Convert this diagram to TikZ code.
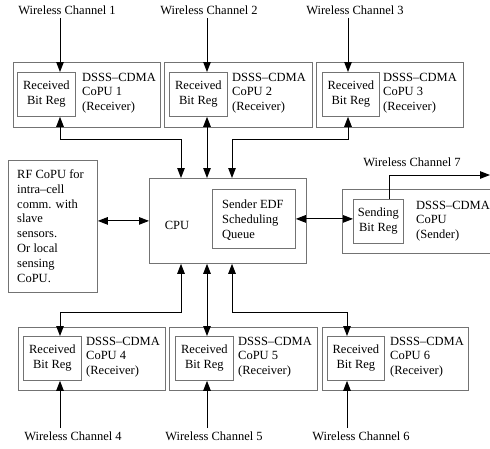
\documentclass[tikz,border=0pt]{standalone}
\usepackage{fontspec}
\setmainfont{Liberation Serif}
\usetikzlibrary{arrows.meta}
\tikzset{
	box/.style={draw=black!55, line width=0.8pt, anchor=north west, inner sep=0pt},
	copu/.style={box, minimum height=65pt},
	reg/.style={box, minimum height=44pt, align=center},
	txt/.style={anchor=west, align=left, inner sep=0pt},
	sig/.style={line width=1pt, -{Triangle[length=10pt,width=7.5pt]}},
	dsig/.style={line width=1pt, {Triangle[length=10pt,width=7.5pt]}-{Triangle[length=10pt,width=7.5pt]}},
}

\begin{document}
\begin{tikzpicture}[x=1pt, y=-1pt, font=\fontsize{12.5}{14.8}\selectfont]
	\useasboundingbox (0,0) rectangle (490,448);
	
	%%%%% arrow columns
	\coordinate (a1) at (60,0);
	\coordinate (a2) at (207,0);
	\coordinate (a3) at (348,0);
	\coordinate (a4) at (60,0);
	\coordinate (a5) at (207,0);
	\coordinate (a6) at (347,0);
	\coordinate (a7) at (389,0);
	\coordinate (out7) at (490,175);
	
	%%%%% CPU
	\node[box, minimum width=157pt, minimum height=85pt] (cpu) at (149,178) {};
	\node (cput) at (177,225) {CPU};
	\node[box, minimum width=83pt, minimum height=59pt] (edf) at (212,189) {};
	\node[txt] (edft) at (222,220) {Sender EDF\\Scheduling\\Queue};
	
	%%%%% RF CoPU
	\node[box, minimum width=89pt, minimum height=132pt] (rf) at (8,160) {};
	\node[txt] (rft) at (17,226) {RF CoPU for\\intra--cell\\comm. with\\slave\\sensors.\\Or local\\sensing\\CoPU.};
	
	%%%%% receivers, top row
	\node[copu, minimum width=147pt] (cp1) at (13,62) {};
	\node[reg, minimum width=58pt] (rx1) at (17,72) {Received\\Bit Reg};
	\node[txt] (t1) at (82,93) {DSSS--CDMA\\CoPU 1\\(Receiver)};
	
	\node[copu, minimum width=148pt] (cp2) at (164,62) {};
	\node[reg, minimum width=58pt] (rx2) at (169,72) {Received\\Bit Reg};
	\node[txt] (t2) at (232,93) {DSSS--CDMA\\CoPU 2\\(Receiver)};
	
	\node[copu, minimum width=147pt] (cp3) at (316,62) {};
	\node[reg, minimum width=57pt] (rx3) at (322,72) {Received\\Bit Reg};
	\node[txt] (t3) at (383,93) {DSSS--CDMA\\CoPU 3\\(Receiver)};
	
	%%%%% receivers, bottom row
	\node[copu, minimum width=147pt, minimum height=63pt] (cp4) at (18,327) {};
	\node[reg, minimum width=58pt] (rx4) at (23,336) {Received\\Bit Reg};
	\node[txt] (t4) at (86,357) {DSSS--CDMA\\CoPU 4\\(Receiver)};
	
	\node[copu, minimum width=148pt, minimum height=63pt] (cp5) at (169,327) {};
	\node[reg, minimum width=58pt] (rx5) at (175,336) {Received\\Bit Reg};
	\node[txt] (t5) at (238,357) {DSSS--CDMA\\CoPU 5\\(Receiver)};
	
	\node[copu, minimum width=146pt, minimum height=63pt] (cp6) at (322,327) {};
	\node[reg, minimum width=57pt] (rx6) at (327,336) {Received\\Bit Reg};
	\node[txt] (t6) at (390,357) {DSSS--CDMA\\CoPU 6\\(Receiver)};
	
	%%%%% sender
	\node[copu, minimum width=160pt, minimum height=64pt] (cp7) at (342,189) {};
	\node[reg, minimum width=50pt] (tx) at (353,199) {Sending\\Bit Reg};
	\node[txt] (t7) at (416,221) {DSSS--CDMA\\CoPU\\(Sender)};
	
	%%%%% channels
	\node (w1) at (67,10) {Wireless Channel 1};
	\node (w2) at (209,10) {Wireless Channel 2};
	\node (w3) at (355,10) {Wireless Channel 3};
	\node (w4) at (73,436) {Wireless Channel 4};
	\node (w5) at (214,436) {Wireless Channel 5};
	\node (w6) at (361,436) {Wireless Channel 6};
	\node (w7) at (412,162) {Wireless Channel 7};
	
	\draw[sig] (w1.south -| a1) -- (rx1.north -| a1);
	\draw[sig] (w2.south -| a2) -- (rx2.north -| a2);
	\draw[sig] (w3.south -| a3) -- (rx3.north -| a3);
	\draw[sig] (w4.north -| a4) -- (rx4.south -| a4);
	\draw[sig] (w5.north -| a5) -- (rx5.south -| a5);
	\draw[sig] (w6.north -| a6) -- (rx6.south -| a6);
	\draw[sig] (tx.north -| a7) |- (out7);
	
	%%%%% buses to the CPU
	\draw[dsig] (rx1.south -| a1) -- ++(0,23) -| ([xshift=32pt]cpu.north west);
	\draw[dsig] (rx2.south -| a2) -- (cpu.north -| a2);
	\draw[dsig] (rx3.south -| a3) -- ++(0,23) -| ([xshift=83pt]cpu.north west);
	\draw[dsig] (rx4.north -| a4) -- ++(0,-24) -| ([xshift=32pt]cpu.south west);
	\draw[dsig] (rx5.north -| a5) -- (cpu.south -| a5);
	\draw[dsig] (rx6.north -| a6) -- ++(0,-24) -| ([xshift=83pt]cpu.south west);
	
	\draw[dsig] (rf.east |- cpu.west) -- (cpu.west);
	\draw[dsig] (edf.east) -- (tx.west |- edf.east);
\end{tikzpicture}
\end{document}
